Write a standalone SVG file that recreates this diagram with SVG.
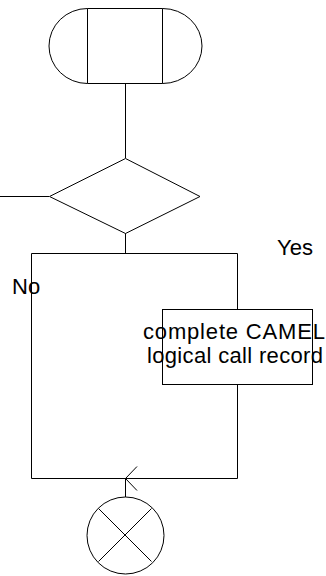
<svg xmlns="http://www.w3.org/2000/svg" width="326" height="576" viewBox="0 0 326 576">
<style>
.s{fill:none;stroke:#000;stroke-width:1}
.b{fill:#fff;stroke:#000;stroke-width:1}
text{font-family:"Liberation Sans",Arial,sans-serif;font-size:22px;fill:#000}
</style>
<rect width="326" height="576" fill="#fff"/>
<g id="connectors">
<path class="s" d="M125.5,83.5 V158"/>
<path class="s" d="M0,196.5 H49"/>
<path class="s" d="M125.5,233 V253.5"/>
<path class="s" d="M31.5,253.5 H237.5 V309"/>
<path class="s" d="M31.5,253.5 V478.5 H237.5 V384"/>
<path class="s" d="M125.5,497 V478.5"/>
<path class="s" d="M137,466.5 L125.5,478.5 L137,490.5"/>
</g>
<g id="start">
<path class="b" d="M87.5,8.5 H162.5 A39.5,37.5 0 0 1 162.5,83.5 H87.5 A38.5,37.5 0 0 1 87.5,8.5 Z"/>
<path class="s" d="M87.5,8.5 V83.5 M162.5,8.5 V83.5" stroke="#555"/>
</g>
<g id="decision">
<path class="b" d="M125.5,158.5 L200,196.5 L125.5,233.5 L49.5,196.5 Z"/>
</g>
<g id="labels">
<text x="277" y="255" textLength="36" lengthAdjust="spacingAndGlyphs">Yes</text>
<text x="12" y="294">No</text>
</g>
<g id="task">
<rect class="b" x="162.5" y="309.5" width="150" height="75"/>
<text x="143" y="339" textLength="182" lengthAdjust="spacing">complete CAMEL</text>
<text x="147" y="363" textLength="176" lengthAdjust="spacing">logical call record</text>
</g>
<g id="stop">
<circle class="b" cx="125.5" cy="535.5" r="38.5"/>
<path class="s" d="M98.5,508.5 L151.5,561.5 M151.5,508.5 L98.5,561.5"/>
</g>
</svg>
